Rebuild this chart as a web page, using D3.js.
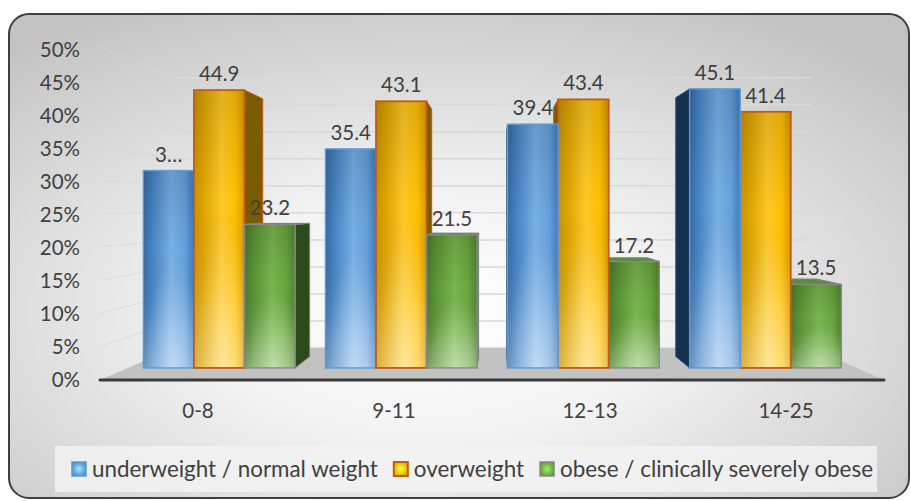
<!DOCTYPE html>
<html>
<head>
<meta charset="utf-8">
<script src="https://cdn.jsdelivr.net/npm/d3@7"></script>
<style>
  html, body { margin: 0; padding: 0; background: #ffffff; }
  svg { display: block; font-family: Lato, "Open Sans", sans-serif; }
</style>
</head>
<body>
<svg id="chart" width="911" height="501"></svg>
<script>
// ---- data -------------------------------------------------------------
const categories = ["0-8", "9-11", "12-13", "14-25"];
const seriesNames = ["underweight / normal weight", "overweight", "obese / clinically severely obese"];
const underweightNormal = [31.9, 35.4, 39.4, 45.1];
const overweight = [44.9, 43.1, 43.4, 41.4];
const obese = [23.2, 21.5, 17.2, 13.5];
const yTicks = [0, 5, 10, 15, 20, 25, 30, 35, 40, 45, 50];
const yTickLabels = ["0%", "5%", "10%", "15%", "20%", "25%", "30%", "35%", "40%", "45%", "50%"];
// data labels that do not fit are cut short with an ellipsis
const clippedLabels = ["0-8|underweight / normal weight"];

const seriesValues = [underweightNormal, overweight, obese];

// ---- styles -----------------------------------------------------------
const seriesStyle = [
  { id: "blue",   stops: ["#356aa6", "#4785c4", "#78b0e6", "#67a1dc", "#3e7cbf"], stroke: "#5d9ad6", side: "#16304f", sideStroke: "#2b5a8c", top: "#4a80bd" },
  { id: "orange", stops: ["#c8920a", "#dca400", "#ffc928", "#ffc000", "#d89a00"], stroke: "#c55a11", side: "#7a5c00", sideStroke: "#c55a11", top: "#e0a000" },
  { id: "green",  stops: ["#4a7a2c", "#5b9435", "#78b64e", "#6aa63e", "#4f8630"], stroke: "#888888", side: "#2c4a1c", sideStroke: "#7f7f7f", top: "#5a8f3a" }
];
const textColor = "#404040";

// ---- 3D perspective set-up ------------------------------------------
// points on the front plane are pulled toward the vanishing point by a
// depth factor s (1 = front edge of the floor, smaller = further back)
const VP = { x: 497, y: 210 };
const DEPTH = { front: 1, barFront: 0.929, barBack: 0.862, wall: 0.812 };
const proj = (x, y, s) => [VP.x + s * (x - VP.x), VP.y + s * (y - VP.y)];

const svg = d3.select("#chart");
const defs = svg.append("defs");

// chart area background
const bg = defs.append("radialGradient").attr("id", "bgGrad")
  .attr("cx", 0.47).attr("cy", 0.62).attr("r", 0.72);
bg.append("stop").attr("offset", 0).attr("stop-color", "#ffffff");
bg.append("stop").attr("offset", 0.35).attr("stop-color", "#f3f3f3");
bg.append("stop").attr("offset", 1).attr("stop-color", "#c3c3c3");

// front face gradients
seriesStyle.forEach(st => {
  const g = defs.append("linearGradient").attr("id", "face-" + st.id)
    .attr("x1", 0).attr("x2", 1).attr("y1", 0).attr("y2", 0);
  [0, 0.18, 0.55, 0.82, 1].forEach((o, i) =>
    g.append("stop").attr("offset", o).attr("stop-color", st.stops[i]));
  const sw = defs.append("radialGradient").attr("id", "swatch-" + st.id)
    .attr("cx", 0.5).attr("cy", 0.5).attr("r", 0.6);
  sw.append("stop").attr("offset", 0).attr("stop-color", d3.color(st.stops[2]).brighter(0.8));
  sw.append("stop").attr("offset", 1).attr("stop-color", st.stops[1]);
});
const shade = defs.append("linearGradient").attr("id", "shade")
  .attr("x1", 0).attr("x2", 0).attr("y1", 0).attr("y2", 1);
[[0, "#000", 0.12], [0.4, "#000", 0], [0.75, "#fff", 0.08], [1, "#fff", 0.28]].forEach(([o, c, a]) =>
  shade.append("stop").attr("offset", o).attr("stop-color", c).attr("stop-opacity", a));
const glow = defs.append("radialGradient").attr("id", "glow")
  .attr("cx", 0.6).attr("cy", 1).attr("r", 0.55);
glow.append("stop").attr("offset", 0).attr("stop-color", "#fff").attr("stop-opacity", 0.35);
glow.append("stop").attr("offset", 1).attr("stop-color", "#fff").attr("stop-opacity", 0);

// outer frame
svg.append("rect")
  .attr("x", 9).attr("y", 14).attr("width", 900).attr("height", 484)
  .attr("rx", 20).attr("ry", 20)
  .attr("fill", "url(#bgGrad)")
  .attr("stroke", "#3f3f3f").attr("stroke-width", 2);

// ---- scales -----------------------------------------------------------
const x = d3.scaleBand().domain(categories).range([100, 884]).padding(0);
const xs = d3.scaleBand().domain(seriesNames).range([0, x.bandwidth()])
  .paddingInner(0).paddingOuter(0.3);
const y = d3.scaleLinear().domain([0, 50]).range([380, 47]);
const yLabel = d3.scaleLinear().domain([0, 50]).range([380, 50]);

const line = d3.line();
const poly = pts => line(pts) + "Z";

// ---- walls and gridlines ---------------------------------------------
const grid = svg.append("g");
// side wall (left)
grid.selectAll(".side").data(yTicks).join("path")
  .attr("d", t => line([proj(x.range()[0], y(t), DEPTH.front), proj(x.range()[0], y(t), DEPTH.wall)]))
  .attr("stroke", "#d6d6d6").attr("stroke-width", 1.2)
  .attr("stroke-dasharray", "2 1.5").attr("fill", "none");
// back wall
grid.selectAll(".back").data(yTicks).join("path")
  .attr("d", t => line([proj(x.range()[0], y(t), DEPTH.wall), proj(x.range()[1], y(t), DEPTH.wall)]))
  .attr("stroke", "#d9d9d9").attr("stroke-width", 1.5).attr("fill", "none");

// floor
const [fx0, fx1] = x.range();
svg.append("path")
  .attr("d", poly([proj(fx0, y(0), DEPTH.front), proj(fx1, y(0), DEPTH.front),
                   proj(fx1, y(0), DEPTH.wall), proj(fx0, y(0), DEPTH.wall)]))
  .attr("fill", "#c2c2c2");
svg.append("path")
  .attr("d", line([proj(fx0, y(0), DEPTH.front), proj(fx1, y(0), DEPTH.front)]))
  .attr("stroke", "#3a3a3a").attr("stroke-width", 3).attr("stroke-linecap", "round");

// ---- bars ---------------------------------------------------------------
const bars = [];
categories.forEach((c, ci) => {
  seriesNames.forEach((s, si) => {
    const x0 = x(c) + xs(s);
    const x1 = x0 + xs.bandwidth();
    bars.push({ category: c, series: s, si, value: seriesValues[si][ci], x0, x1 });
  });
});
// paint the bars furthest from the vanishing point first
bars.sort((a, b) => Math.abs((b.x0 + b.x1) / 2 - VP.x) - Math.abs((a.x0 + a.x1) / 2 - VP.x));

const barLayer = svg.append("g");
bars.forEach(d => {
  const st = seriesStyle[d.si];
  const yt = y(d.value), yb = y(0);
  const F = DEPTH.barFront, B = DEPTH.barBack;
  const g = barLayer.append("g");
  const cx = (d.x0 + d.x1) / 2;
  // side face
  const sx = cx < VP.x ? d.x1 : d.x0;
  g.append("path")
    .attr("d", poly([proj(sx, yt, F), proj(sx, yt, B), proj(sx, yb, B), proj(sx, yb, F)]))
    .attr("fill", st.side).attr("stroke", st.sideStroke).attr("stroke-width", 1);
  // top face, only seen when the top sits below eye level
  if (yt > VP.y) {
    g.append("path")
      .attr("d", poly([proj(d.x0, yt, F), proj(d.x1, yt, F), proj(d.x1, yt, B), proj(d.x0, yt, B)]))
      .attr("fill", st.top).attr("stroke", st.sideStroke).attr("stroke-width", 1);
  }
  // front face
  const [ax, ay] = proj(d.x0, yt, F);
  const [bx, by] = proj(d.x1, yb, F);
  const rect = { x: ax, y: ay, width: bx - ax, height: by - ay };
  g.append("rect").attr("x", rect.x).attr("y", rect.y).attr("width", rect.width).attr("height", rect.height)
    .attr("fill", `url(#face-${st.id})`);
  g.append("rect").attr("x", rect.x).attr("y", rect.y).attr("width", rect.width).attr("height", rect.height)
    .attr("fill", "url(#shade)");
  g.append("rect").attr("x", rect.x).attr("y", rect.y).attr("width", rect.width).attr("height", rect.height)
    .attr("fill", "url(#glow)")
    .attr("stroke", st.stroke).attr("stroke-width", d.si === 1 ? 1.8 : 1.4);
  d.labelX = (ax + bx) / 2;
  d.labelY = ay - 9;
});

// data labels
const fmt = d3.format(".1f");
svg.append("g").selectAll("text").data(bars).join("text")
  .attr("x", d => d.labelX).attr("y", d => d.labelY)
  .attr("text-anchor", "middle")
  .attr("font-size", 20.5).attr("fill", textColor)
  .text(d => {
    const t = fmt(d.value);
    return clippedLabels.includes(d.category + "|" + d.series) ? t.slice(0, 1) + "…" : t;
  });

// value axis labels
svg.append("g").selectAll("text").data(yTicks).join("text")
  .attr("x", 80).attr("y", t => yLabel(t))
  .attr("dy", "0.36em")
  .attr("text-anchor", "end")
  .attr("font-size", 20.5).attr("fill", textColor)
  .text((t, i) => yTickLabels[i]);

// category axis labels
svg.append("g").selectAll("text").data(categories).join("text")
  .attr("x", c => x(c) + x.bandwidth() / 2).attr("y", y(0) + 38)
  .attr("text-anchor", "middle")
  .attr("font-size", 20.5).attr("fill", textColor)
  .text(c => c);

// ---- legend -----------------------------------------------------------
const legend = svg.append("g");
legend.append("rect")
  .attr("x", 55).attr("y", 446).attr("width", 822).attr("height", 46)
  .attr("fill", "#f2f2f2").attr("fill-opacity", 0.85);
let lx = 72;
seriesNames.forEach((name, i) => {
  const st = seriesStyle[i];
  legend.append("rect")
    .attr("x", lx).attr("y", 462).attr("width", 14).attr("height", 14)
    .attr("fill", `url(#swatch-${st.id})`)
    .attr("stroke", st.stroke).attr("stroke-width", i === 1 ? 2 : 1.5);
  const t = legend.append("text")
    .attr("x", lx + 20).attr("y", 477)
    .attr("font-size", 22.4).attr("fill", textColor)
    .text(name);
  lx += 20 + t.node().getComputedTextLength() + 16;
});
</script>
</body>
</html>
